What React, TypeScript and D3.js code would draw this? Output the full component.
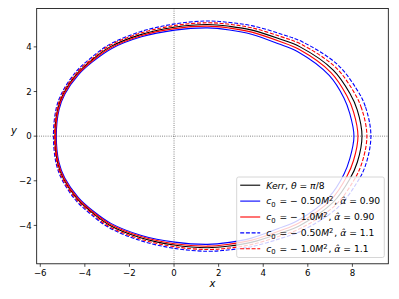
import React from 'react';
import * as d3 from 'd3';

// upper half of each shadow contour (x, y), right to left
const kerrPts: [number, number][] = [
  [8.43, 0], [8.22, 1.17], [7.89, 1.91], [7.14, 2.96], [5.65, 4.0], [4.75, 4.35],
  [3.5, 4.75], [2.5, 4.92], [1.5, 5.0], [0.0, 4.88], [-1.5, 4.55], [-2.87, 4.0],
  [-3.69, 3.41], [-4.35, 2.8], [-4.96, 1.91], [-5.22, 1.2], [-5.34, 0],
];
const blueSolidPts: [number, number][] = [
  [8.07, 0], [7.88, 1.02], [7.62, 1.71], [6.96, 2.72], [5.55, 3.78], [4.68, 4.14],
  [3.47, 4.57], [2.49, 4.76], [1.5, 4.85], [0.03, 4.75], [-1.46, 4.45], [-2.81, 3.92],
  [-3.63, 3.35], [-4.29, 2.75], [-4.9, 1.88], [-5.16, 1.18], [-5.28, 0],
];
const redSolidPts: [number, number][] = [
  [8.25, 0], [8.05, 1.09], [7.75, 1.81], [7.05, 2.84], [5.6, 3.89], [4.72, 4.25],
  [3.49, 4.66], [2.5, 4.84], [1.5, 4.93], [0.01, 4.82], [-1.48, 4.5], [-2.84, 3.96],
  [-3.66, 3.38], [-4.32, 2.78], [-4.93, 1.9], [-5.19, 1.19], [-5.31, 0],
];
const blueDashedPts: [number, number][] = [
  [8.83, 0], [8.58, 1.33], [8.18, 2.12], [7.33, 3.21], [5.75, 4.23], [4.82, 4.57],
  [3.53, 4.94], [2.51, 5.09], [1.5, 5.16], [-0.03, 5.02], [-1.54, 4.67], [-2.93, 4.09],
  [-3.76, 3.48], [-4.42, 2.86], [-5.03, 1.94], [-5.29, 1.22], [-5.41, 0],
];
const redDashedPts: [number, number][] = [
  [8.65, 0], [8.41, 1.25], [8.04, 2.02], [7.24, 3.09], [5.7, 4.12], [4.79, 4.46],
  [3.51, 4.85], [2.51, 5.01], [1.5, 5.08], [-0.01, 4.95], [-1.52, 4.61], [-2.9, 4.05],
  [-3.72, 3.44], [-4.38, 2.83], [-4.99, 1.93], [-5.25, 1.21], [-5.37, 0],
];

const xTicks = [-6, -4, -2, 0, 2, 4, 6, 8];
const yTicks = [-4, -2, 0, 2, 4];

const series = [
  { pts: kerrPts, color: '#000000', dash: '' },
  { pts: blueSolidPts, color: '#0000ff', dash: '' },
  { pts: redSolidPts, color: '#ff0000', dash: '' },
  { pts: blueDashedPts, color: '#0000ff', dash: '4,1.7' },
  { pts: redDashedPts, color: '#ff0000', dash: '4,1.7' },
];

const fmt = (v: number) => (v < 0 ? '\u2212' + Math.abs(v) : String(v));

// full closed contour: upper half + mirrored lower half
const closeCurve = (pts: [number, number][]) => {
  const lower = pts.slice(1, -1).map(([x, y]) => [x, -y] as [number, number]).reverse();
  return pts.concat(lower);
};

const Sub = ({ t }: { t: string }) => (
  <>
    <tspan dy={2.3} fontSize={6.8}>{t}</tspan>
    <tspan dy={-2.3}>{'\u200a'}</tspan>
  </>
);
const Sup = ({ t }: { t: string }) => (
  <>
    <tspan dy={-3.6} fontSize={6.8}>{t}</tspan>
    <tspan dy={3.6}>{'\u200a'}</tspan>
  </>
);

const paramLabel = (c: string, a: string) => (
  <>
    <tspan fontStyle="italic">c</tspan>
    <Sub t="0" />
    <tspan>{' = \u2212 ' + c}</tspan>
    <tspan fontStyle="italic">M</tspan>
    <Sup t="2" />
    <tspan>{', '}</tspan>
    <tspan fontStyle="italic">{'\u03b1\u0302'}</tspan>
    <tspan>{' = ' + a}</tspan>
  </>
);

const legendItems = [
  {
    color: '#000000', dash: '',
    label: (
      <>
        <tspan fontStyle="italic">Kerr</tspan>
        <tspan>{', '}</tspan>
        <tspan fontStyle="italic">{'\u03b8'}</tspan>
        <tspan>{' = '}</tspan>
        <tspan fontStyle="italic">{'\u03c0'}</tspan>
        <tspan>/8</tspan>
      </>
    ),
  },
  { color: '#0000ff', dash: '', label: paramLabel('0.50', '0.90') },
  { color: '#ff0000', dash: '', label: paramLabel('1.0', '0.90') },
  { color: '#0000ff', dash: '4,1.7', label: paramLabel('0.50', '1.1') },
  { color: '#ff0000', dash: '4,1.7', label: paramLabel('1.0', '1.1') },
];

export default function App() {
  const W = 399;
  const H = 299;
  const left = 36.7, right = 388.3, top = 8.5, bottom = 263.8;

  const x = d3.scaleLinear().domain([-6.16, 9.61]).range([left, right]);
  const y = d3.scaleLinear().domain([-5.72, 5.72]).range([bottom, top]);

  const line = d3
    .line<[number, number]>()
    .x((d) => x(d[0]))
    .y((d) => y(d[1]))
    .curve(d3.curveCatmullRomClosed.alpha(0.5));

  const font = 'DejaVu Sans, sans-serif';
  const lg = { x: 236.7, y: 177, w: 147.6, h: 80.5, row: 15.9 };

  return (
    <svg
      width={W}
      height={H}
      style={{ position: 'absolute', left: 0, top: 0, background: '#fff' }}
      fontFamily={font}
    >
      <defs>
        <clipPath id="plotclip">
          <rect x={left} y={top} width={right - left} height={bottom - top} />
        </clipPath>
      </defs>

      {/* reference lines */}
      <g clipPath="url(#plotclip)">
        <line x1={x(0)} x2={x(0)} y1={top} y2={bottom} stroke="#000" strokeWidth={0.6} strokeDasharray="0.8,1.4" />
        <line x1={left} x2={right} y1={y(0)} y2={y(0)} stroke="#000" strokeWidth={0.6} strokeDasharray="0.8,1.4" />
        {series.map((s, i) => (
          <path
            key={i}
            d={line(closeCurve(s.pts)) || ''}
            fill="none"
            stroke={s.color}
            strokeWidth={1.1}
            strokeDasharray={s.dash || undefined}
          />
        ))}
      </g>

      {/* spines */}
      <rect x={left} y={top} width={right - left} height={bottom - top} fill="none" stroke="#000" strokeWidth={0.8} />

      {/* x ticks */}
      {xTicks.map((t) => (
        <g key={'x' + t}>
          <line x1={x(t)} x2={x(t)} y1={bottom} y2={bottom + 3} stroke="#000" strokeWidth={0.7} />
          <text x={x(t)} y={bottom + 12.5} fontSize={8.6} textAnchor="middle" fill="#000">
            {fmt(t)}
          </text>
        </g>
      ))}
      {/* y ticks */}
      {yTicks.map((t) => (
        <g key={'y' + t}>
          <line x1={left - 3} x2={left} y1={y(t)} y2={y(t)} stroke="#000" strokeWidth={0.7} />
          <text x={left - 5} y={y(t) + 3.1} fontSize={8.6} textAnchor="end" fill="#000">
            {fmt(t)}
          </text>
        </g>
      ))}

      {/* axis labels */}
      <text x={(left + right) / 2} y={287} fontSize={10} fontStyle="italic" textAnchor="middle">x</text>
      <text x={14} y={134} fontSize={10} fontStyle="italic" textAnchor="middle">y</text>

      {/* legend */}
      <rect x={lg.x} y={lg.y} width={lg.w} height={lg.h} rx={2} fill="#fff" fillOpacity={0.8} stroke="#cccccc" strokeWidth={0.8} />
      {legendItems.map((it, i) => {
        const cy = lg.y + 8.2 + i * lg.row;
        return (
          <g key={i}>
            <line x1={lg.x + 3.5} x2={lg.x + 23.5} y1={cy} y2={cy} stroke={it.color} strokeWidth={1.1} strokeDasharray={it.dash || undefined} />
            <text x={lg.x + 29.5} y={cy + 3.3} fontSize={9.2} fill="#000">
              {it.label}
            </text>
          </g>
        );
      })}
    </svg>
  );
}
